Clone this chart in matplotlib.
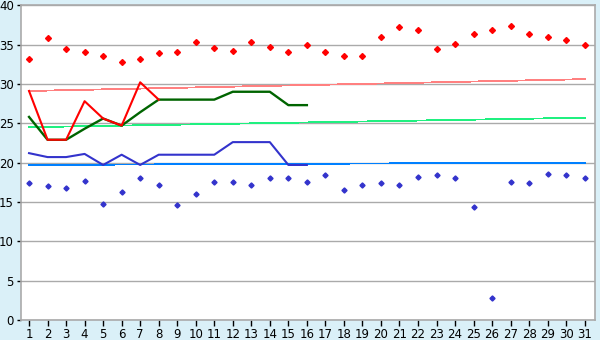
import matplotlib
matplotlib.use("Agg")
import matplotlib.pyplot as plt

days = list(range(1, 32))

red_points = [33.2, 35.8, 34.4, 34.0, 33.5, 32.8, 33.1, 33.9, 34.1, 35.3,
              34.6, 34.2, 35.3, 34.7, 34.0, 35.0, 34.1, 33.6, 33.6, 36.0,
              37.2, 36.8, 34.4, 35.1, 36.4, 36.8, 37.4, 36.4, 36.0, 35.6, 35.0]
blue_points = [17.4, 17.0, 16.8, 17.6, 14.8, 16.2, 18.0, 17.1, 14.6, 16.0,
               17.5, 17.5, 17.1, 18.0, 18.0, 17.5, 18.4, 16.5, 17.2, 17.4,
               17.2, 18.2, 18.4, 18.0, 14.4, 2.75, 17.5, 17.4, 18.5, 18.4, 18.1]

red_line = [29.1, 22.9, 22.9, 27.8, 25.6, 24.7, 30.2, 28.0]
green_line = [25.8, 22.9, 22.9, 24.3, 25.6, 24.7, 26.4, 28.0, 28.0, 28.0,
              28.0, 29.0, 29.0, 29.0, 27.3, 27.3]
blue_line = [21.2, 20.7, 20.7, 21.1, 19.7, 21.0, 19.7, 21.0, 21.0, 21.0,
             21.0, 22.6, 22.6, 22.6, 19.7, 19.7]

# trend lines, start and end values (day 1, day 31)
trend_days = [1, 31]
red_trend = [29.1, 30.6]
green_trend = [24.5, 25.7]
blue_trend = [19.7, 20.0]

fig = plt.figure(figsize=(6, 3.4), dpi=100, facecolor="#daf0f8")
ax = fig.add_axes([0.0345, 0.0588, 0.957, 0.926])
ax.set_facecolor("white")

ax.set_ylim(0, 40)
ax.set_xlim(0.55, 31.55)
ax.set_yticks(range(0, 41, 5))
ax.set_xticks(days)
ax.grid(axis="y", color="#aaaaaa", linewidth=1)
ax.set_axisbelow(True)
for s in ax.spines.values():
    s.set_color("#aaaaaa")
    s.set_linewidth(1.2)
ax.tick_params(axis="both", labelsize=8.5, colors="black", length=4, width=1,
               pad=2)
ax.tick_params(axis="y", length=3)

ax.plot(trend_days, red_trend, color="#ff8080", lw=0.6, antialiased=False)
ax.plot(trend_days, green_trend, color="#20f080", lw=0.6, antialiased=False)
ax.plot(trend_days, blue_trend, color="#0080ff", lw=0.6, antialiased=False)

ax.plot(days[:len(green_line)], green_line, color="#006400", lw=1.7)
ax.plot(days[:len(blue_line)], blue_line, color="#3333cc", lw=1.5)
ax.plot(days[:len(red_line)], red_line, color="#ff0000", lw=1.5)

ax.plot(days, red_points, ls="none", marker="D", ms=3, color="#ff0000")
ax.plot(days, blue_points, ls="none", marker="D", ms=2.6, color="#3333cc")

fig.savefig("out.png", dpi=100, facecolor=fig.get_facecolor())
